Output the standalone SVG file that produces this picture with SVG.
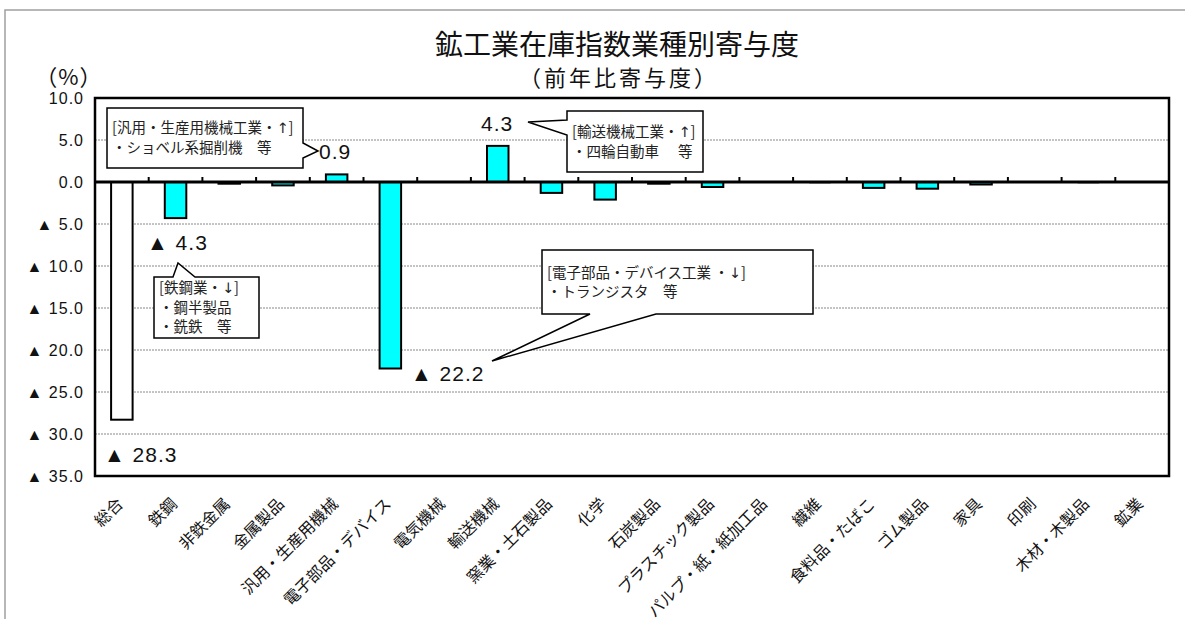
<svg xmlns="http://www.w3.org/2000/svg" width="1185" height="619" viewBox="0 0 1185 619">
<style>
.jp{font-family:"Noto Sans CJK JP","Liberation Sans",sans-serif;fill:#111}
.num{font-family:"Liberation Sans","Noto Sans CJK JP",sans-serif;fill:#111}
.ytick{font-size:16px;letter-spacing:1px;text-anchor:end}
.grid{stroke:#888;stroke-width:1;stroke-dasharray:2 1}
.bar{fill:#00ffff;stroke:#000;stroke-width:2}
.barw{fill:#fff;stroke:#000;stroke-width:2}
.tick{stroke:#000;stroke-width:2}
.call{fill:#fff;stroke:#000;stroke-width:1.5}
.ct{font-size:14.5px;fill:#222}
.ar{font-family:"DejaVu Sans",sans-serif;fill:#222}
.val{font-size:21px;letter-spacing:1px}
.xl{font-size:16px;text-anchor:end}
</style>
<rect x="0" y="0" width="1185" height="619" fill="#fff"/>
<rect x="5" y="10" width="1200" height="700" fill="none" stroke="#a0a0a0" stroke-width="1.5"/>

<g id="title">
<text class="jp" x="617" y="55" font-size="28" text-anchor="middle">鉱工業在庫指数業種別寄与度</text>
<text class="jp" x="619" y="86" font-size="22" letter-spacing="3" text-anchor="middle">（前年比寄与度）</text>
<text class="jp" x="69" y="85" font-size="22" letter-spacing="1" text-anchor="middle">（%）</text>
</g>

<g id="y-axis">
<text class="num ytick" x="84" y="104">10.0</text>
<text class="num ytick" x="84" y="146">5.0</text>
<text class="num ytick" x="84" y="188">0.0</text>
<text class="num ytick" x="84" y="230">▲ 5.0</text>
<text class="num ytick" x="84" y="272">▲ 10.0</text>
<text class="num ytick" x="84" y="314">▲ 15.0</text>
<text class="num ytick" x="84" y="356">▲ 20.0</text>
<text class="num ytick" x="84" y="398">▲ 25.0</text>
<text class="num ytick" x="84" y="440">▲ 30.0</text>
<text class="num ytick" x="84" y="482">▲ 35.0</text>
</g>

<g id="grid">
<line class="grid" x1="95" y1="140" x2="1169" y2="140"/>
<line class="grid" x1="95" y1="224" x2="1169" y2="224"/>
<line class="grid" x1="95" y1="266" x2="1169" y2="266"/>
<line class="grid" x1="95" y1="308" x2="1169" y2="308"/>
<line class="grid" x1="95" y1="350" x2="1169" y2="350"/>
<line class="grid" x1="95" y1="392" x2="1169" y2="392"/>
<line class="grid" x1="95" y1="434" x2="1169" y2="434"/>
</g>

<g id="bars">
<rect class="barw" x="111.1" y="182" width="21.5" height="237.7"/>
<rect class="bar" x="164.8" y="182" width="21.5" height="36.1"/>
<rect class="bar" x="218.5" y="182" width="21.5" height="1.7"/>
<rect class="bar" x="272.2" y="182" width="21.5" height="3.4"/>
<rect class="bar" x="325.9" y="174.4" width="21.5" height="7.6"/>
<rect class="bar" x="379.6" y="182" width="21.5" height="186.5"/>
<rect class="bar" x="487.0" y="145.9" width="21.5" height="36.1"/>
<rect class="bar" x="540.7" y="182" width="21.5" height="10.9"/>
<rect class="bar" x="594.4" y="182" width="21.5" height="17.6"/>
<rect class="bar" x="648.1" y="182" width="21.5" height="1.7"/>
<rect class="bar" x="701.8" y="182" width="21.5" height="5.0"/>
<rect x="755.5" y="182" width="21.5" height="1" fill="#999"/>
<rect x="809.2" y="182" width="21.5" height="1.5" fill="#777"/>
<rect class="bar" x="862.9" y="182" width="21.5" height="5.9"/>
<rect class="bar" x="916.6" y="182" width="21.5" height="6.7"/>
<rect class="bar" x="970.3" y="182" width="21.5" height="2.5"/>
<rect x="1077.7" y="182" width="21.5" height="1.5" fill="#777"/>
<rect x="1131.4" y="182" width="21.5" height="1" fill="#bbb"/>
</g>

<g id="axes">
<rect x="95" y="98" width="1074" height="378" fill="none" stroke="#000" stroke-width="2.5"/>
<line x1="95" y1="182" x2="1169" y2="182" stroke="#000" stroke-width="3"/>
<g class="tick">
<line x1="148.7" y1="177" x2="148.7" y2="182"/>
<line x1="202.4" y1="177" x2="202.4" y2="182"/>
<line x1="256.1" y1="177" x2="256.1" y2="182"/>
<line x1="309.8" y1="177" x2="309.8" y2="182"/>
<line x1="363.5" y1="177" x2="363.5" y2="182"/>
<line x1="417.2" y1="177" x2="417.2" y2="182"/>
<line x1="470.9" y1="177" x2="470.9" y2="182"/>
<line x1="524.6" y1="177" x2="524.6" y2="182"/>
<line x1="578.3" y1="177" x2="578.3" y2="182"/>
<line x1="632" y1="177" x2="632" y2="182"/>
<line x1="685.7" y1="177" x2="685.7" y2="182"/>
<line x1="739.4" y1="177" x2="739.4" y2="182"/>
<line x1="793.1" y1="177" x2="793.1" y2="182"/>
<line x1="846.8" y1="177" x2="846.8" y2="182"/>
<line x1="900.5" y1="177" x2="900.5" y2="182"/>
<line x1="954.2" y1="177" x2="954.2" y2="182"/>
<line x1="1007.9" y1="177" x2="1007.9" y2="182"/>
<line x1="1061.6" y1="177" x2="1061.6" y2="182"/>
<line x1="1115.3" y1="177" x2="1115.3" y2="182"/>
</g>
</g>

<g id="x-labels" class="jp xl">
<text transform="translate(124,505) rotate(-45)">総合</text>
<text transform="translate(178,505) rotate(-45)">鉄鋼</text>
<text transform="translate(231,505) rotate(-45)">非鉄金属</text>
<text transform="translate(285,505) rotate(-45)">金属製品</text>
<text transform="translate(339,505) rotate(-45)">汎用・生産用機械</text>
<text transform="translate(392,505) rotate(-45)">電子部品・デバイス</text>
<text transform="translate(446,505) rotate(-45)">電気機械</text>
<text transform="translate(500,505) rotate(-45)">輸送機械</text>
<text transform="translate(553,505) rotate(-45)">窯業・土石製品</text>
<text transform="translate(607,505) rotate(-45)">化学</text>
<text transform="translate(661,505) rotate(-45)">石炭製品</text>
<text transform="translate(715,505) rotate(-45)">プラスチック製品</text>
<text transform="translate(768,505) rotate(-45)">パルプ・紙・紙加工品</text>
<text transform="translate(822,505) rotate(-45)">繊維</text>
<text transform="translate(876,505) rotate(-45)">食料品・たばこ</text>
<text transform="translate(929,505) rotate(-45)">ゴム製品</text>
<text transform="translate(983,505) rotate(-45)">家具</text>
<text transform="translate(1037,505) rotate(-45)">印刷</text>
<text transform="translate(1090,505) rotate(-45)">木材・木製品</text>
<text transform="translate(1144,505) rotate(-45)">鉱業</text>
</g>

<g id="value-labels" class="num val">
<text x="104" y="462">▲ 28.3</text>
<text x="147" y="250">▲ 4.3</text>
<text x="411" y="381">▲ 22.2</text>
<text x="319" y="159">0.9</text>
<text x="481" y="131">4.3</text>
</g>

<g id="connectors">
<path class="call" d="M107,108 H303 V143 L318,151 L303,158 V168 H107 Z"/>
<path class="call" d="M567,111 H703 V172 H567 V135 L528,122 L567,120 Z"/>
<path class="call" d="M154,277 H173 L178,263 L195,277 H259 V338 H154 Z"/>
<path class="call" d="M542,250 H813 V314 H656 L492,361 L590,314 H542 Z"/>
</g>

<g id="callout-machinery" class="jp ct">
<text x="112" y="133">[汎用・生産用機械工業・<tspan class="ar">↑</tspan>]</text>
<text x="112" y="153">・ショベル系掘削機　等</text>
</g>
<g id="callout-transport" class="jp ct">
<text x="572" y="137">[輸送機械工業・<tspan class="ar">↑</tspan>]</text>
<text x="572" y="157">・四輪自動車　<tspan x="678">等</tspan></text>
</g>
<g id="callout-steel" class="jp ct">
<text x="159" y="293">[鉄鋼業・<tspan class="ar">↓</tspan>]</text>
<text x="159" y="313">・鋼半製品</text>
<text x="159" y="332">・銑鉄　等</text>
</g>
<g id="callout-electronics" class="jp ct">
<text x="547" y="278">[電子部品・デバイス工業 ・<tspan class="ar">↓</tspan>]</text>
<text x="547" y="297">・トランジスタ　等</text>
</g>
</svg>
